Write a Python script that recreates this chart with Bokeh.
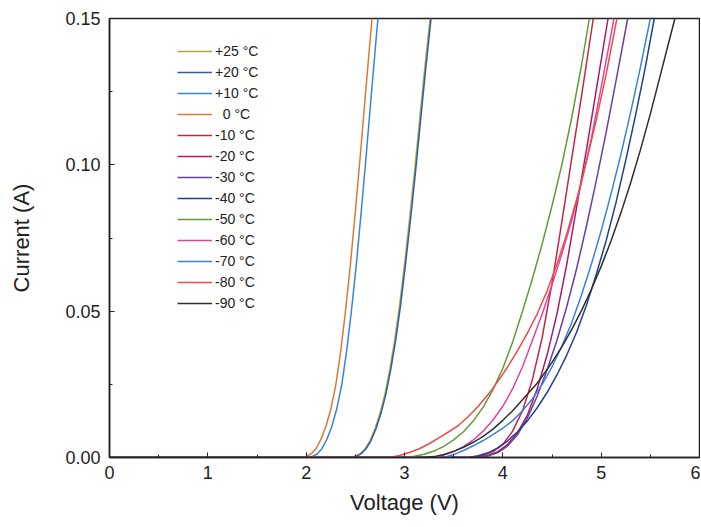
from bokeh.plotting import figure
from bokeh.models import Range1d, NumeralTickFormatter, FixedTicker, Legend
from bokeh.embed import file_html
from bokeh.resources import INLINE

FONT = "Liberation Sans"

labels = ["+25 °C", "+20 °C", "+10 °C", "\u00a0\u00a00 °C", "-10 °C", "-20 °C", "-30 °C",
          "-40 °C", "-50 °C", "-60 °C", "-70 °C", "-80 °C", "-90 °C"]
colors = ["#b9a535", "#2c5db0", "#3585d6", "#dc7a35", "#c62640", "#b0195e", "#6a3ea3",
          "#203f8e", "#5f9c34", "#e0449e", "#3a80e2", "#ef4a45", "#2e2e2e"]

v_p25 = [0, 2.45, 2.50, 2.55, 2.60, 2.65, 2.70, 2.75, 2.80, 2.85, 2.90, 2.95, 3.00, 3.05, 3.10, 3.15, 3.20, 3.26]
i_p25 = [0, 0, 0.0004, 0.0013, 0.003, 0.0058, 0.0098, 0.015, 0.0215, 0.030, 0.040, 0.052, 0.066, 0.081, 0.097, 0.114, 0.131, 0.150]
v_p20 = [0, 2.46, 2.51, 2.56, 2.61, 2.66, 2.71, 2.76, 2.81, 2.86, 2.91, 2.96, 3.01, 3.06, 3.11, 3.16, 3.21, 3.27]
i_p20 = [0, 0, 0.0004, 0.0013, 0.003, 0.0058, 0.0098, 0.015, 0.0215, 0.030, 0.040, 0.052, 0.066, 0.081, 0.097, 0.114, 0.131, 0.150]
v_p10 = [0, 2.01, 2.06, 2.11, 2.16, 2.21, 2.26, 2.31, 2.36, 2.41, 2.46, 2.51, 2.56, 2.61, 2.66, 2.71, 2.73]
i_p10 = [0, 0, 0.0003, 0.0012, 0.003, 0.0062, 0.0105, 0.0165, 0.0245, 0.036, 0.050, 0.066, 0.084, 0.103, 0.123, 0.1425, 0.150]
v_0 = [0, 1.95, 2.00, 2.05, 2.10, 2.15, 2.20, 2.25, 2.30, 2.35, 2.40, 2.45, 2.50, 2.55, 2.60, 2.65, 2.67]
i_0 = [0, 0, 0.0003, 0.0012, 0.003, 0.0062, 0.0105, 0.0165, 0.0245, 0.036, 0.050, 0.066, 0.084, 0.103, 0.123, 0.1425, 0.150]
v_m10 = [0, 3.70, 3.80, 3.90, 4.00, 4.10, 4.20, 4.30, 4.40, 4.50, 4.60, 4.70, 4.80, 4.92]
i_m10 = [0, 0, 0.0007, 0.002, 0.0045, 0.009, 0.016, 0.0265, 0.041, 0.0595, 0.0805, 0.102, 0.1235, 0.150]
v_m20 = [0, 3.75, 3.85, 3.95, 4.05, 4.15, 4.25, 4.35, 4.45, 4.55, 4.65, 4.75, 4.85, 4.95, 5.07]
i_m20 = [0, 0, 0.0007, 0.002, 0.0045, 0.0085, 0.0145, 0.0235, 0.035, 0.049, 0.066, 0.0855, 0.105, 0.1255, 0.150]
v_m30 = [0, 3.75, 3.85, 3.95, 4.05, 4.15, 4.25, 4.35, 4.45, 4.55, 4.65, 4.75, 4.85, 4.95, 5.05, 5.15, 5.27]
i_m30 = [0, 0, 0.0005, 0.0017, 0.004, 0.0078, 0.0135, 0.021, 0.030, 0.040, 0.0515, 0.0645, 0.079, 0.0945, 0.111, 0.1285, 0.150]
v_m40 = [0, 3.65, 3.75, 3.85, 3.95, 4.05, 4.15, 4.25, 4.35, 4.45, 4.55, 4.65, 4.75, 4.85, 4.95, 5.05, 5.15, 5.25, 5.35, 5.45, 5.54]
i_m40 = [0, 0, 0.0006, 0.0016, 0.0033, 0.0057, 0.0088, 0.0125, 0.017, 0.0222, 0.0282, 0.035, 0.0428, 0.052, 0.0625, 0.074, 0.087, 0.1015, 0.117, 0.1335, 0.150]
v_m50 = [0, 3.00, 3.10, 3.20, 3.30, 3.40, 3.50, 3.60, 3.70, 3.80, 3.90, 4.00, 4.10, 4.20, 4.30, 4.40, 4.50, 4.60, 4.70, 4.80, 4.88]
i_m50 = [0, 0, 0.0004, 0.0011, 0.0022, 0.0038, 0.006, 0.0088, 0.0125, 0.0172, 0.0232, 0.0305, 0.0395, 0.050, 0.061, 0.073, 0.086, 0.100, 0.116, 0.134, 0.150]
v_m60 = [0, 3.30, 3.40, 3.50, 3.60, 3.70, 3.80, 3.90, 4.00, 4.10, 4.20, 4.30, 4.40, 4.50, 4.60, 4.70, 4.80, 4.90, 5.00, 5.10, 5.13]
i_m60 = [0, 0, 0.0008, 0.002, 0.0037, 0.006, 0.009, 0.0128, 0.0175, 0.0235, 0.031, 0.040, 0.049, 0.059, 0.0695, 0.081, 0.094, 0.109, 0.1265, 0.1445, 0.150]
v_m70 = [0, 3.40, 3.50, 3.60, 3.70, 3.80, 3.90, 4.00, 4.10, 4.20, 4.30, 4.40, 4.50, 4.60, 4.70, 4.80, 4.90, 5.00, 5.10, 5.20, 5.30, 5.40, 5.50]
i_m70 = [0, 0, 0.001, 0.0024, 0.004, 0.0058, 0.0078, 0.010, 0.0126, 0.016, 0.020, 0.025, 0.031, 0.038, 0.046, 0.0555, 0.066, 0.0775, 0.090, 0.1035, 0.118, 0.1335, 0.150]
v_m80 = [0, 2.85, 2.95, 3.05, 3.15, 3.25, 3.35, 3.45, 3.55, 3.65, 3.75, 3.85, 3.95, 4.05, 4.15, 4.25, 4.35, 4.45, 4.55, 4.65, 4.75, 4.85, 4.95, 5.05, 5.16]
i_m80 = [0, 0, 0.0007, 0.0017, 0.003, 0.0047, 0.0067, 0.0088, 0.011, 0.014, 0.0175, 0.0215, 0.026, 0.031, 0.0365, 0.0425, 0.0491, 0.0569, 0.066, 0.0764, 0.0881, 0.1011, 0.1153, 0.1308, 0.150]
v_m90 = [0, 3.20, 3.30, 3.40, 3.50, 3.60, 3.70, 3.80, 3.90, 4.00, 4.10, 4.20, 4.34, 4.40, 4.50, 4.60, 4.70, 4.80, 4.90, 5.00, 5.10, 5.20, 5.30, 5.40, 5.50, 5.60, 5.70, 5.75]
i_m90 = [0, 0, 0.0003, 0.001, 0.0021, 0.0035, 0.0052, 0.0072, 0.0097, 0.0127, 0.016, 0.0197, 0.025, 0.0277, 0.0325, 0.0378, 0.0437, 0.0502, 0.0574, 0.0653, 0.074, 0.0835, 0.0939, 0.1052, 0.1174, 0.1304, 0.1435, 0.150]

series_v = [v_p25, v_p20, v_p10, v_0, v_m10, v_m20, v_m30, v_m40, v_m50, v_m60, v_m70, v_m80, v_m90]
series_i = [i_p25, i_p20, i_p10, i_0, i_m10, i_m20, i_m30, i_m40, i_m50, i_m60, i_m70, i_m80, i_m90]

x_ticks = [0, 1, 2, 3, 4, 5, 6]
y_ticks = [0.0, 0.05, 0.10, 0.15]

p = figure(width=700, height=525, output_backend="svg", toolbar_location=None,
           x_range=Range1d(0, 6), y_range=Range1d(0, 0.15),
           min_border_left=109, min_border_right=1, min_border_top=18, min_border_bottom=68)
p.xgrid.visible = False
p.ygrid.visible = False
p.outline_line_color = "#222222"
p.outline_line_width = 1.5
p.background_fill_color = "white"

items = []
for v, i, lab, col in zip(series_v, series_i, labels, colors):
    r = p.line(v, i, line_color=col, line_width=1.5, line_join="round")
    items.append((lab, [r]))

legend = Legend(items=items, location=(68, 145), padding=0, margin=0, spacing=3,
                glyph_height=18, label_height=18, glyph_width=35, label_standoff=3,
                label_text_font=FONT, label_text_font_size="14px", label_text_color="#222222",
                border_line_alpha=0, background_fill_alpha=0)
p.add_layout(legend, "center")

for ax in (p.xaxis[0], p.yaxis[0]):
    ax.axis_line_color = "#222222"
    ax.axis_line_width = 1.5
    ax.major_tick_in = 5
    ax.major_tick_out = 0
    ax.minor_tick_in = 3
    ax.minor_tick_out = 0
    ax.major_tick_line_color = "#222222"
    ax.minor_tick_line_color = "#222222"
    ax.major_label_text_font = FONT
    ax.major_label_text_font_size = "18px"
    ax.major_label_text_color = "#222222"
    ax.axis_label_text_font = FONT
    ax.axis_label_text_font_size = "22px"
    ax.axis_label_text_font_style = "normal"
    ax.axis_label_text_color = "#222222"

p.xaxis[0].ticker = FixedTicker(ticks=x_ticks, minor_ticks=[0.5, 1.5, 2.5, 3.5, 4.5, 5.5])
p.yaxis[0].ticker = FixedTicker(ticks=y_ticks, minor_ticks=[0.025, 0.075, 0.125])
p.yaxis[0].formatter = NumeralTickFormatter(format="0.00")
p.xaxis[0].axis_label = "Voltage (V)"
p.yaxis[0].axis_label = "Current (A)"
p.xaxis[0].major_label_standoff = 8
p.yaxis[0].major_label_standoff = 9
p.xaxis[0].axis_label_standoff = 8
p.yaxis[0].axis_label_standoff = 28

open("out.html", "w").write(file_html(p, INLINE))
